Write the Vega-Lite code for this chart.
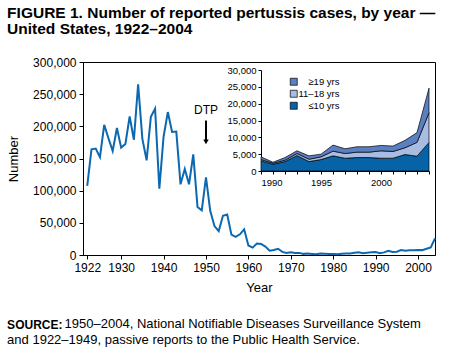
{
  "$schema": "https://vega.github.io/schema/vega-lite/v6.json",
  "padding": {"left": 7, "top": 6, "right": 0, "bottom": 0},
  "background": "white",
  "config": {
    "font": "Liberation Sans",
    "view": {"stroke": null},
    "axis": {"grid": false, "domainColor": "black", "tickColor": "black", "labelColor": "black", "titleColor": "black", "titleFontWeight": "normal", "domainWidth": 1, "tickWidth": 1, "labelOverlap": false}
  },
  "title": {
    "text": ["FIGURE 1. Number of reported pertussis cases, by year —", "United States, 1922–2004"],
    "anchor": "start", "frame": "bounds", "fontSize": 15.5, "fontWeight": "bold", "lineHeight": 16, "offset": 18, "color": "black"
  },
  "datasets": {
    "cases": [
      {"year": 1922, "cases": 107473}, {"year": 1923, "cases": 164191}, {"year": 1924, "cases": 165418},
      {"year": 1925, "cases": 152003}, {"year": 1926, "cases": 202210}, {"year": 1927, "cases": 181411},
      {"year": 1928, "cases": 161799}, {"year": 1929, "cases": 197371}, {"year": 1930, "cases": 166914},
      {"year": 1931, "cases": 172559}, {"year": 1932, "cases": 215343}, {"year": 1933, "cases": 179135},
      {"year": 1934, "cases": 265269}, {"year": 1935, "cases": 180518}, {"year": 1936, "cases": 147237},
      {"year": 1937, "cases": 214652}, {"year": 1938, "cases": 227319}, {"year": 1939, "cases": 103188},
      {"year": 1940, "cases": 183866}, {"year": 1941, "cases": 222202}, {"year": 1942, "cases": 191383},
      {"year": 1943, "cases": 191890}, {"year": 1944, "cases": 109873}, {"year": 1945, "cases": 133792},
      {"year": 1946, "cases": 109860}, {"year": 1947, "cases": 156517}, {"year": 1948, "cases": 74715},
      {"year": 1949, "cases": 69479}, {"year": 1950, "cases": 120718}, {"year": 1951, "cases": 68687},
      {"year": 1952, "cases": 45030}, {"year": 1953, "cases": 37129}, {"year": 1954, "cases": 60886},
      {"year": 1955, "cases": 62786}, {"year": 1956, "cases": 31732}, {"year": 1957, "cases": 28295},
      {"year": 1958, "cases": 32148}, {"year": 1959, "cases": 40005}, {"year": 1960, "cases": 14809},
      {"year": 1961, "cases": 11468}, {"year": 1962, "cases": 17749}, {"year": 1963, "cases": 17135},
      {"year": 1964, "cases": 13005}, {"year": 1965, "cases": 6799}, {"year": 1966, "cases": 7717},
      {"year": 1967, "cases": 9718}, {"year": 1968, "cases": 4810}, {"year": 1969, "cases": 3285},
      {"year": 1970, "cases": 4249}, {"year": 1971, "cases": 3036}, {"year": 1972, "cases": 3287},
      {"year": 1973, "cases": 1759}, {"year": 1974, "cases": 2402}, {"year": 1975, "cases": 1738},
      {"year": 1976, "cases": 1010}, {"year": 1977, "cases": 2177}, {"year": 1978, "cases": 2063},
      {"year": 1979, "cases": 1623}, {"year": 1980, "cases": 1730}, {"year": 1981, "cases": 1248},
      {"year": 1982, "cases": 1895}, {"year": 1983, "cases": 2463}, {"year": 1984, "cases": 2276},
      {"year": 1985, "cases": 3589}, {"year": 1986, "cases": 4195}, {"year": 1987, "cases": 2823},
      {"year": 1988, "cases": 3450}, {"year": 1989, "cases": 4157}, {"year": 1990, "cases": 4570},
      {"year": 1991, "cases": 2719}, {"year": 1992, "cases": 4083}, {"year": 1993, "cases": 6586},
      {"year": 1994, "cases": 4617}, {"year": 1995, "cases": 5137}, {"year": 1996, "cases": 7796},
      {"year": 1997, "cases": 6564}, {"year": 1998, "cases": 7405}, {"year": 1999, "cases": 7288},
      {"year": 2000, "cases": 7867}, {"year": 2001, "cases": 7580}, {"year": 2002, "cases": 9771},
      {"year": 2003, "cases": 11647}, {"year": 2004, "cases": 25827}
    ],
    "dtp": [{"year": 1950, "cases": 226000, "top": 209000, "tip": 176000, "label": "DTP"}],
    "ages": [
      {"year": 1990, "age": "≤10 yrs", "rank": 1, "n": 3000}, {"year": 1990, "age": "11–18 yrs", "rank": 2, "n": 400}, {"year": 1990, "age": "≥19 yrs", "rank": 3, "n": 800},
      {"year": 1991, "age": "≤10 yrs", "rank": 1, "n": 2000}, {"year": 1991, "age": "11–18 yrs", "rank": 2, "n": 300}, {"year": 1991, "age": "≥19 yrs", "rank": 3, "n": 300},
      {"year": 1992, "age": "≤10 yrs", "rank": 1, "n": 2800}, {"year": 1992, "age": "11–18 yrs", "rank": 2, "n": 400}, {"year": 1992, "age": "≥19 yrs", "rank": 3, "n": 800},
      {"year": 1993, "age": "≤10 yrs", "rank": 1, "n": 4600}, {"year": 1993, "age": "11–18 yrs", "rank": 2, "n": 600}, {"year": 1993, "age": "≥19 yrs", "rank": 3, "n": 800},
      {"year": 1994, "age": "≤10 yrs", "rank": 1, "n": 2800}, {"year": 1994, "age": "11–18 yrs", "rank": 2, "n": 700}, {"year": 1994, "age": "≥19 yrs", "rank": 3, "n": 1000},
      {"year": 1995, "age": "≤10 yrs", "rank": 1, "n": 3400}, {"year": 1995, "age": "11–18 yrs", "rank": 2, "n": 800}, {"year": 1995, "age": "≥19 yrs", "rank": 3, "n": 800},
      {"year": 1996, "age": "≤10 yrs", "rank": 1, "n": 4500}, {"year": 1996, "age": "11–18 yrs", "rank": 2, "n": 1400}, {"year": 1996, "age": "≥19 yrs", "rank": 3, "n": 1800},
      {"year": 1997, "age": "≤10 yrs", "rank": 1, "n": 3800}, {"year": 1997, "age": "11–18 yrs", "rank": 2, "n": 1400}, {"year": 1997, "age": "≥19 yrs", "rank": 3, "n": 1400},
      {"year": 1998, "age": "≤10 yrs", "rank": 1, "n": 4000}, {"year": 1998, "age": "11–18 yrs", "rank": 2, "n": 1600}, {"year": 1998, "age": "≥19 yrs", "rank": 3, "n": 1600},
      {"year": 1999, "age": "≤10 yrs", "rank": 1, "n": 4000}, {"year": 1999, "age": "11–18 yrs", "rank": 2, "n": 1600}, {"year": 1999, "age": "≥19 yrs", "rank": 3, "n": 1600},
      {"year": 2000, "age": "≤10 yrs", "rank": 1, "n": 3800}, {"year": 2000, "age": "11–18 yrs", "rank": 2, "n": 2200}, {"year": 2000, "age": "≥19 yrs", "rank": 3, "n": 1600},
      {"year": 2001, "age": "≤10 yrs", "rank": 1, "n": 3800}, {"year": 2001, "age": "11–18 yrs", "rank": 2, "n": 2000}, {"year": 2001, "age": "≥19 yrs", "rank": 3, "n": 1600},
      {"year": 2002, "age": "≤10 yrs", "rank": 1, "n": 4900}, {"year": 2002, "age": "11–18 yrs", "rank": 2, "n": 2000}, {"year": 2002, "age": "≥19 yrs", "rank": 3, "n": 2200},
      {"year": 2003, "age": "≤10 yrs", "rank": 1, "n": 4400}, {"year": 2003, "age": "11–18 yrs", "rank": 2, "n": 4100}, {"year": 2003, "age": "≥19 yrs", "rank": 3, "n": 2900},
      {"year": 2004, "age": "≤10 yrs", "rank": 1, "n": 8500}, {"year": 2004, "age": "11–18 yrs", "rank": 2, "n": 8800}, {"year": 2004, "age": "≥19 yrs", "rank": 3, "n": 7300}
    ]
  },
  "vconcat": [
    {
      "title": {
        "text": "SOURCE:",
        "subtitle": "and 1922–1949, passive reports to the Public Health Service.",
        "orient": "bottom", "anchor": "start", "frame": "bounds",
        "fontSize": 12, "fontWeight": "bold", "color": "black",
        "subtitleFontSize": 13, "subtitleFontWeight": "normal", "subtitleColor": "black",
        "subtitlePadding": 2, "offset": 0, "dy": -12
      },
      "vconcat": [
        {
          "width": 352,
          "height": 193,
          "view": {"stroke": "black", "strokeWidth": 1},
          "title": {
            "text": "1950–2004, National Notifiable Diseases Surveillance System",
            "orient": "bottom", "anchor": "start", "frame": "bounds",
            "fontSize": 13, "fontWeight": "normal", "color": "black",
            "offset": 24, "dx": 57
          },
          "resolve": {"scale": {"x": "independent", "y": "independent"}},
          "layer": [
            {
              "layer": [
                {
                  "data": {"name": "cases"},
                  "mark": {"type": "line", "color": "#0c68b0", "strokeWidth": 2},
                  "encoding": {
                    "x": {"field": "year", "type": "quantitative", "title": "Year",
                      "scale": {"domain": [1921, 2004], "nice": false, "zero": false},
                      "axis": {"values": [1922, 1930, 1940, 1950, 1960, 1970, 1980, 1990, 2000], "format": "d", "labelFontSize": 12, "titleFontSize": 13, "tickSize": 4, "labelPadding": 3, "titlePadding": 8}},
                    "y": {"field": "cases", "type": "quantitative", "title": "Number",
                      "scale": {"domain": [0, 300000], "nice": false},
                      "axis": {"values": [0, 50000, 100000, 150000, 200000, 250000, 300000], "format": ",d", "labelFontSize": 12, "titleFontSize": 13, "tickSize": 4, "labelPadding": 3, "titlePadding": 12, "labelOverlap": false}}
                  }
                },
                {
                  "data": {"name": "dtp"},
                  "mark": {"type": "rule", "color": "black", "strokeWidth": 2},
                  "encoding": {
                    "x": {"field": "year", "type": "quantitative", "title": "Year",
                      "axis": {"values": [1922, 1930, 1940, 1950, 1960, 1970, 1980, 1990, 2000], "format": "d", "labelFontSize": 12, "titleFontSize": 13, "tickSize": 4, "labelPadding": 3, "titlePadding": 8}},
                    "y": {"field": "top", "type": "quantitative", "title": "Number",
                      "axis": {"values": [0, 50000, 100000, 150000, 200000, 250000, 300000], "format": ",d", "labelFontSize": 12, "titleFontSize": 13, "tickSize": 4, "labelPadding": 3, "titlePadding": 12, "labelOverlap": false}},
                    "y2": {"field": "tip"}
                  }
                },
                {
                  "data": {"name": "dtp"},
                  "mark": {"type": "point", "shape": "triangle-down", "filled": true, "color": "black", "size": 30, "opacity": 1},
                  "encoding": {
                    "x": {"field": "year", "type": "quantitative", "title": "Year",
                      "axis": {"values": [1922, 1930, 1940, 1950, 1960, 1970, 1980, 1990, 2000], "format": "d", "labelFontSize": 12, "titleFontSize": 13, "tickSize": 4, "labelPadding": 3, "titlePadding": 8}},
                    "y": {"field": "tip", "type": "quantitative", "title": "Number",
                      "axis": {"values": [0, 50000, 100000, 150000, 200000, 250000, 300000], "format": ",d", "labelFontSize": 12, "titleFontSize": 13, "tickSize": 4, "labelPadding": 3, "titlePadding": 12, "labelOverlap": false}}
                  }
                },
                {
                  "data": {"name": "dtp"},
                  "mark": {"type": "text", "fontSize": 12, "color": "black"},
                  "encoding": {
                    "x": {"field": "year", "type": "quantitative", "title": "Year",
                      "axis": {"values": [1922, 1930, 1940, 1950, 1960, 1970, 1980, 1990, 2000], "format": "d", "labelFontSize": 12, "titleFontSize": 13, "tickSize": 4, "labelPadding": 3, "titlePadding": 8}},
                    "y": {"field": "cases", "type": "quantitative", "title": "Number",
                      "axis": {"values": [0, 50000, 100000, 150000, 200000, 250000, 300000], "format": ",d", "labelFontSize": 12, "titleFontSize": 13, "tickSize": 4, "labelPadding": 3, "titlePadding": 12, "labelOverlap": false}},
                    "text": {"field": "label"}
                  }
                }
              ]
            },
            {
              "data": {"name": "ages"},
              "mark": {"type": "area", "stroke": "black", "strokeWidth": 0.7},
              "encoding": {
                "x": {"field": "year", "type": "quantitative",
                  "scale": {"domain": [1990, 2004], "range": [178, 346], "nice": false, "zero": false},
                  "axis": {"orient": "bottom", "offset": -84, "title": null, "values": [1990, 1991, 1992, 1993, 1994, 1995, 1996, 1997, 1998, 1999, 2000, 2001, 2002, 2003, 2004], "format": "d", "labelExpr": "datum.value % 5 === 0 ? datum.label : ''", "labelFontSize": 9.5, "tickSize": 3, "labelPadding": 3}},
                "y": {"field": "n", "type": "quantitative", "stack": "zero",
                  "scale": {"domain": [0, 30000], "range": [109, 8], "nice": false},
                  "axis": {"orient": "left", "offset": -178, "title": null, "values": [0, 5000, 10000, 15000, 20000, 25000, 30000], "format": ",d", "labelFontSize": 9.5, "tickSize": 3, "labelPadding": 2}},
                "color": {"field": "age", "type": "nominal",
                  "scale": {"domain": ["≥19 yrs", "11–18 yrs", "≤10 yrs"], "range": ["#5b80c2", "#a9bde3", "#0663a8"]},
                  "legend": {"orient": "none", "legendX": 206, "legendY": 15, "title": null, "symbolType": "square", "symbolSize": 49, "symbolStrokeColor": "black", "symbolStrokeWidth": 0.7, "labelFontSize": 9.5, "labelAlign": "right", "labelOffset": 41, "rowPadding": 1, "labelColor": "black"}},
                "order": {"field": "rank"}
              }
            }
          ]
        }
      ]
    }
  ]
}
